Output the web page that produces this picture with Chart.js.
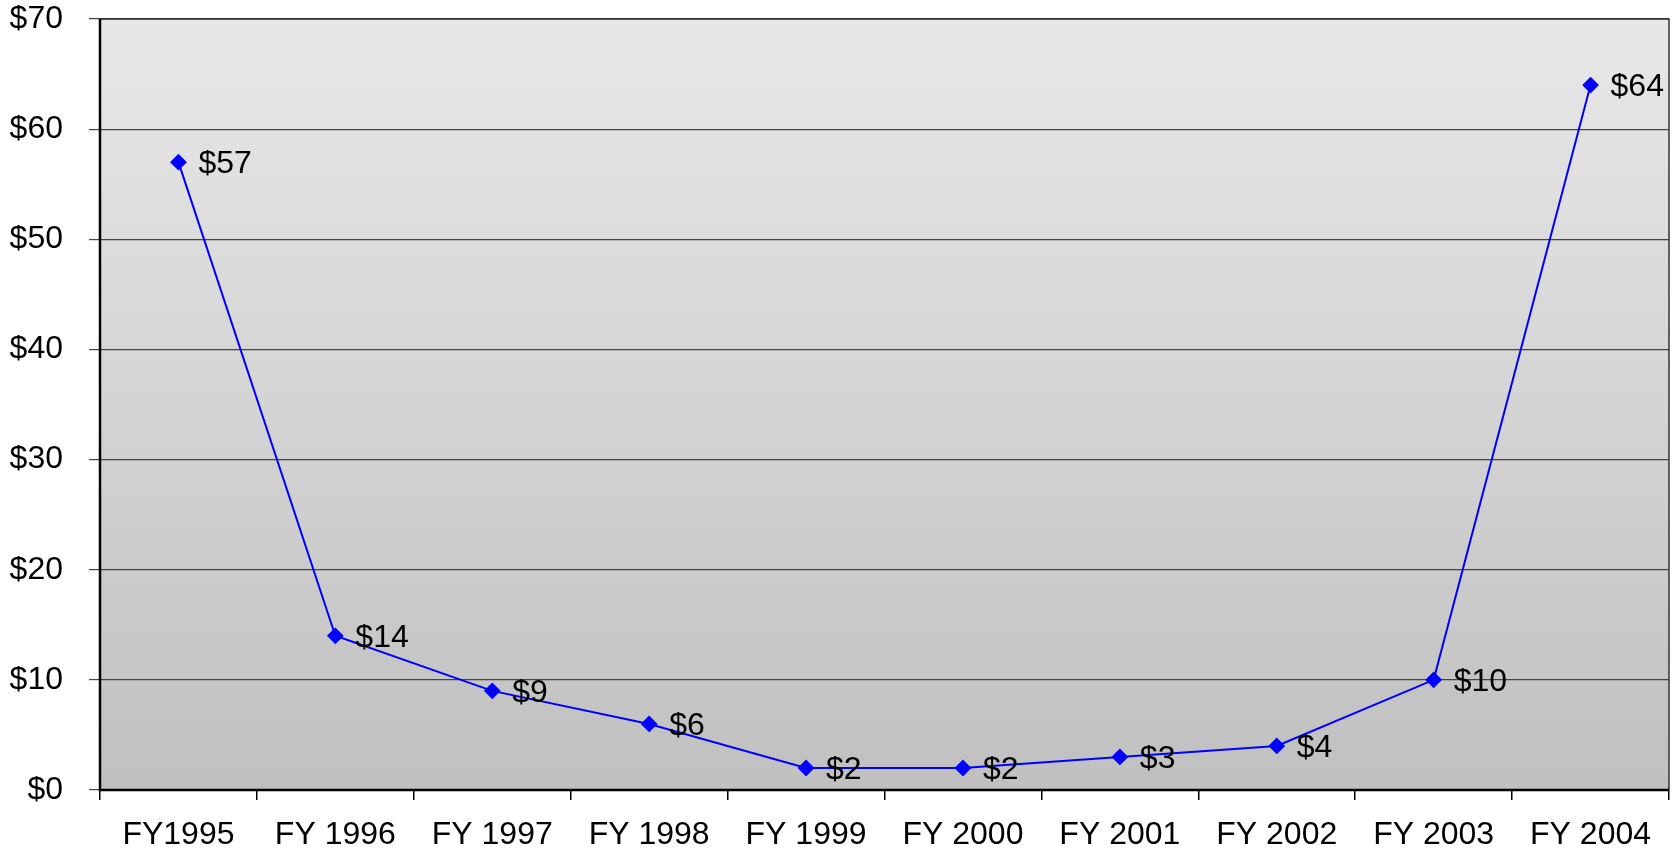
<!DOCTYPE html>
<html>
<head>
<meta charset="utf-8">
<script src="https://cdn.jsdelivr.net/npm/chart.js@4/dist/chart.umd.min.js"></script>
<style>
  html, body { margin: 0; padding: 0; background: #fff; }
  #wrap { width: 1678px; height: 853px; }
</style>
</head>
<body>
<div id="wrap"><canvas id="chart" width="1678" height="853"></canvas></div>
<script>
// Dati
const anni = ['FY1995', 'FY 1996', 'FY 1997', 'FY 1998', 'FY 1999', 'FY 2000', 'FY 2001', 'FY 2002', 'FY 2003', 'FY 2004'];
const valori = [57, 14, 9, 6, 2, 2, 3, 4, 10, 64];
const etichette = ['$57', '$14', '$9', '$6', '$2', '$2', '$3', '$4', '$10', '$64'];
const yMin = 0, yMax = 70, yPasso = 10;

const FONT = 'Liberation Sans, Arial, sans-serif';
const DIM = 32;

// Sfondo sfumato e cornice dell'area del grafico
const sfondo = {
    id: 'sfondo',
    beforeDraw(chart) {
        const { ctx, chartArea: a } = chart;
        const g = ctx.createLinearGradient(0, a.top, 0, a.bottom);
        g.addColorStop(0, '#e8e8e8');
        g.addColorStop(1, '#c0c0c0');
        ctx.save();
        ctx.fillStyle = g;
        ctx.fillRect(a.left, a.top, a.right - a.left, a.bottom - a.top);
        ctx.restore();
    },
    afterDraw(chart) {
        const { ctx, chartArea: a } = chart;
        ctx.save();
        ctx.strokeStyle = '#333';
        ctx.lineWidth = 1.5;
        ctx.beginPath();
        ctx.moveTo(a.left, a.top);
        ctx.lineTo(a.right, a.top);
        ctx.lineTo(a.right, a.bottom);
        ctx.stroke();
        ctx.strokeStyle = '#000';
        ctx.lineWidth = 2.5;
        ctx.beginPath();
        ctx.moveTo(a.left, a.top);
        ctx.lineTo(a.left, a.bottom);
        ctx.lineTo(a.right, a.bottom);
        ctx.stroke();
        ctx.restore();
    }
};

// Etichette dei valori a destra dei punti
const etichettePunti = {
    id: 'etichettePunti',
    afterDatasetsDraw(chart) {
        const { ctx } = chart;
        const meta = chart.getDatasetMeta(0);
        ctx.save();
        ctx.font = DIM + 'px ' + FONT;
        ctx.fillStyle = '#000';
        ctx.textAlign = 'left';
        ctx.textBaseline = 'middle';
        meta.data.forEach((p, i) => {
            ctx.fillText(etichette[i], p.x + 20, p.y + 2);
        });
        ctx.restore();
    }
};

new Chart(document.getElementById('chart'), {
    type: 'line',
    data: {
        labels: anni,
        datasets: [{
            data: valori,
            borderColor: '#0000ff',
            backgroundColor: '#0000ff',
            borderWidth: 2,
            pointStyle: 'rectRot',
            pointRadius: 7,
            pointHoverRadius: 7,
            tension: 0
        }]
    },
    options: {
        responsive: false,
        animation: false,
        layout: { padding: { left: 0, right: 7, top: 19, bottom: 0 } },
        plugins: { legend: { display: false }, tooltip: { enabled: false } },
        scales: {
            x: {
                offset: true,
                grid: { offset: true, drawOnChartArea: false, drawTicks: true, tickLength: 10, color: '#000', lineWidth: 1.5 },
                border: { display: false },
                ticks: { color: '#000', font: { family: FONT, size: DIM }, padding: 16, maxRotation: 0, autoSkip: false },
                afterFit(s) { s.height = 63; s.paddingLeft = 0; s.paddingRight = 0; }
            },
            y: {
                min: yMin, max: yMax,
                grid: { color: '#444', lineWidth: 1.2, tickLength: 11 },
                border: { display: false },
                ticks: {
                    stepSize: yPasso,
                    color: '#000',
                    font: { family: FONT, size: DIM },
                    padding: 26,
                    callback: v => '$' + v
                },
                afterFit(s) { s.width = 100; s.paddingTop = 0; s.paddingBottom = 0; }
            }
        }
    },
    plugins: [sfondo, etichettePunti]
});
</script>
</body>
</html>
